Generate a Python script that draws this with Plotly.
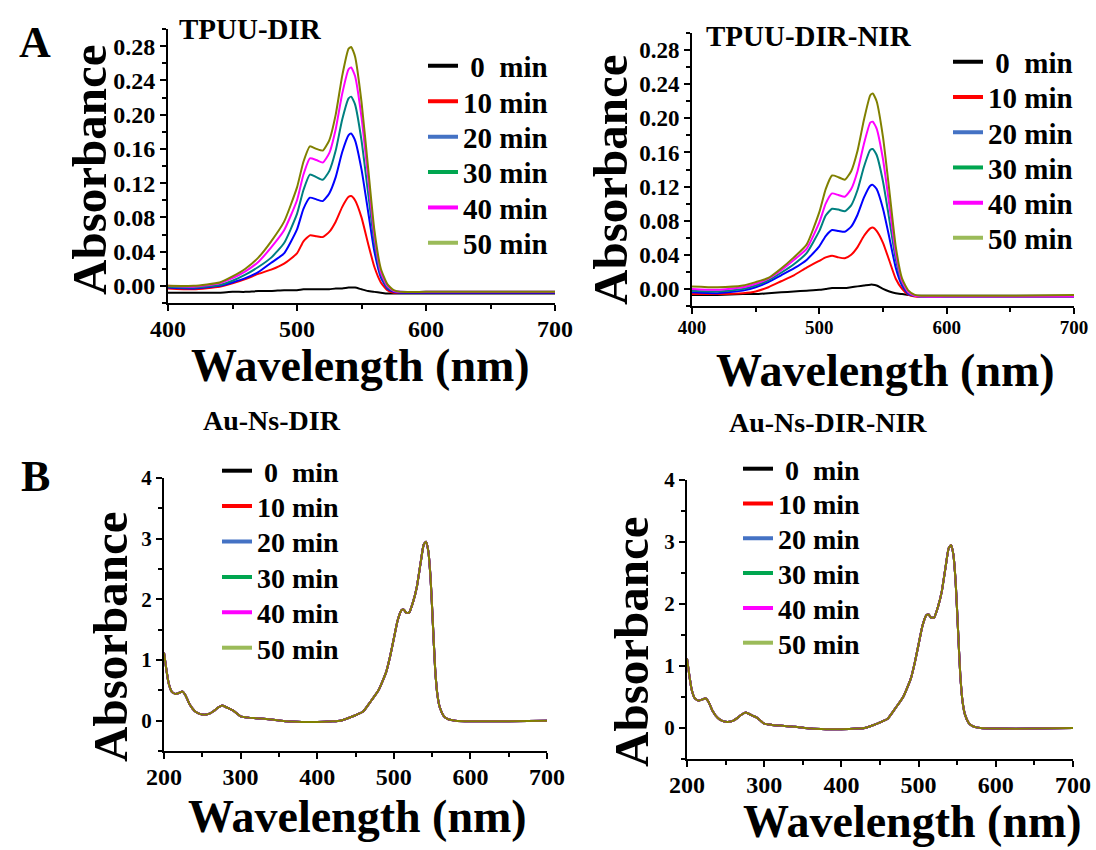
import plotly.graph_objects as go

# ---------------- data ----------------
wl_top = [400, 420, 440, 450, 460, 470, 480, 490, 500, 505, 510, 515, 520, 525, 530,
          535, 540, 542, 545, 550, 555, 560, 565, 570, 575, 580, 600, 650, 700]

times = ["\u00a00\u00a0\u00a0min", "10 min", "20 min", "30 min", "40 min", "50 min"]

# TPUU-DIR
tl_0 = [-0.008, -0.008, -0.008, -0.007, -0.007, -0.006, -0.006, -0.005, -0.005, -0.004, -0.004, -0.004, -0.004, -0.004, -0.003,
        -0.003, -0.002, -0.002, -0.002, -0.004, -0.006, -0.007, -0.008, -0.009, -0.009, -0.009, -0.009, -0.009, -0.009]
tl_10 = [-0.003, -0.004, -0.001, 0.003, 0.008, 0.014, 0.019, 0.026, 0.038, 0.052, 0.059, 0.058, 0.057, 0.063, 0.075,
         0.092, 0.104, 0.105, 0.100, 0.080, 0.050, 0.022, 0.004, -0.005, -0.008, -0.008, -0.008, -0.008, -0.008]
tl_20 = [-0.002, -0.003, 0.000, 0.004, 0.009, 0.016, 0.027, 0.038, 0.066, 0.090, 0.103, 0.101, 0.099, 0.108, 0.127,
         0.156, 0.176, 0.178, 0.170, 0.136, 0.088, 0.040, 0.010, -0.003, -0.007, -0.008, -0.008, -0.008, -0.008]
tl_30 = [-0.001, -0.002, 0.001, 0.006, 0.013, 0.022, 0.033, 0.050, 0.084, 0.112, 0.130, 0.127, 0.124, 0.134, 0.158,
         0.194, 0.219, 0.221, 0.212, 0.170, 0.110, 0.050, 0.013, -0.002, -0.006, -0.007, -0.007, -0.007, -0.007]
tl_40 = [0.000, -0.001, 0.003, 0.009, 0.017, 0.028, 0.045, 0.065, 0.100, 0.130, 0.149, 0.147, 0.144, 0.155, 0.183,
         0.224, 0.253, 0.255, 0.245, 0.197, 0.128, 0.058, 0.016, 0.000, -0.006, -0.007, -0.007, -0.007, -0.007]
tl_50 = [0.000, 0.000, 0.004, 0.011, 0.020, 0.033, 0.052, 0.075, 0.115, 0.145, 0.163, 0.160, 0.158, 0.170, 0.200,
         0.245, 0.277, 0.279, 0.268, 0.215, 0.140, 0.065, 0.020, 0.002, -0.005, -0.007, -0.007, -0.007, -0.007]

# TPUU-DIR-NIR
tr_0 = [-0.007, -0.007, -0.006, -0.006, -0.005, -0.004, -0.003, -0.002, -0.001, 0.000, 0.001, 0.001, 0.001, 0.002, 0.003,
        0.004, 0.005, 0.005, 0.004, 0.000, -0.003, -0.005, -0.006, -0.007, -0.008, -0.008, -0.008, -0.008, -0.008]
tr_10 = [-0.006, -0.006, -0.005, -0.003, 0.002, 0.009, 0.016, 0.025, 0.033, 0.037, 0.039, 0.037, 0.036, 0.040, 0.049,
         0.062, 0.071, 0.072, 0.068, 0.054, 0.033, 0.012, 0.000, -0.007, -0.009, -0.009, -0.009, -0.009, -0.009]
tr_20 = [-0.004, -0.005, -0.002, 0.002, 0.008, 0.016, 0.024, 0.034, 0.050, 0.062, 0.069, 0.068, 0.067, 0.073, 0.087,
         0.107, 0.121, 0.122, 0.117, 0.094, 0.060, 0.025, 0.004, -0.006, -0.008, -0.009, -0.009, -0.009, -0.009]
tr_30 = [-0.002, -0.003, 0.000, 0.004, 0.010, 0.019, 0.029, 0.042, 0.068, 0.086, 0.094, 0.093, 0.091, 0.098, 0.116,
         0.143, 0.163, 0.164, 0.157, 0.126, 0.081, 0.035, 0.007, -0.005, -0.008, -0.009, -0.009, -0.009, -0.009]
tr_40 = [0.000, -0.001, 0.002, 0.006, 0.012, 0.022, 0.034, 0.047, 0.078, 0.100, 0.112, 0.110, 0.108, 0.117, 0.138,
         0.170, 0.195, 0.196, 0.188, 0.152, 0.098, 0.042, 0.009, -0.004, -0.008, -0.009, -0.009, -0.009, -0.009]
tr_50 = [0.003, 0.002, 0.004, 0.008, 0.013, 0.024, 0.037, 0.052, 0.090, 0.117, 0.133, 0.131, 0.128, 0.138, 0.162,
         0.198, 0.227, 0.229, 0.220, 0.178, 0.115, 0.050, 0.012, -0.002, -0.007, -0.008, -0.008, -0.008, -0.007]

# Au-Ns spectra (all six time points overlap)
wl_au = [200, 203, 206, 210, 215, 220, 224, 228, 233, 240, 245, 250, 255, 260, 265, 270, 276, 280, 285, 290,
         295, 300, 310, 320, 340, 360, 380, 400, 420, 430, 440, 450, 460, 470, 480, 490, 495, 500, 505, 510,
         513, 516, 520, 525, 530, 535, 539, 542, 545, 548, 551, 554, 557, 560, 565, 570, 575, 580, 600, 650, 700]
au_dir = [1.12, 0.85, 0.62, 0.48, 0.44, 0.46, 0.48, 0.42, 0.28, 0.16, 0.12, 0.10, 0.10, 0.12, 0.16, 0.21, 0.25, 0.23, 0.20, 0.17,
          0.12, 0.07, 0.05, 0.04, 0.02, -0.01, -0.02, -0.02, -0.01, 0.00, 0.04, 0.09, 0.15, 0.32, 0.50, 0.80, 1.05, 1.35, 1.65, 1.82,
          1.83, 1.78, 1.78, 1.95, 2.20, 2.60, 2.90, 2.95, 2.80, 2.35, 1.60, 0.85, 0.42, 0.22, 0.08, 0.03, 0.01, 0.00, -0.01, -0.01, 0.00]
au_dir_nir = [1.12, 0.85, 0.62, 0.48, 0.44, 0.46, 0.48, 0.42, 0.28, 0.16, 0.12, 0.10, 0.10, 0.12, 0.16, 0.21, 0.25, 0.23, 0.20, 0.17,
              0.12, 0.07, 0.05, 0.04, 0.02, -0.01, -0.02, -0.02, -0.01, 0.00, 0.04, 0.09, 0.15, 0.32, 0.50, 0.80, 1.05, 1.35, 1.65, 1.82,
              1.83, 1.78, 1.78, 1.95, 2.20, 2.60, 2.90, 2.95, 2.80, 2.35, 1.60, 0.85, 0.42, 0.22, 0.08, 0.03, 0.01, 0.00, -0.01, -0.01, 0.00]

curve_colors = ["#000000", "#FF0000", "#0000FF", "#008080", "#FF00FF", "#808000"]
legend_colors = ["#000000", "#FF0000", "#4472C4", "#00A650", "#FF00FF", "#9BBB59"]

panel_titles = ["TPUU-DIR", "TPUU-DIR-NIR", "Au-Ns-DIR", "Au-Ns-DIR-NIR"]

# ---------------- figure ----------------
FONT = "Liberation Serif"
W, H = 1096, 850
fig = go.Figure()


def px_x(p):
    return p / W


def px_y(p):
    return 1 - p / H


# (xaxis, yaxis, wavelengths, series, legend text start px, first row px, row step px, legend font)
panels = [
    ("x", "y", wl_top, [tl_0, tl_10, tl_20, tl_30, tl_40, tl_50], 463, 66, 35.4, 29),
    ("x2", "y2", wl_top, [tr_0, tr_10, tr_20, tr_30, tr_40, tr_50], 988, 62, 35.2, 29),
    ("x3", "y3", wl_au, [au_dir] * 6, 257, 471, 35.4, 28),
    ("x4", "y4", wl_au, [au_dir_nir] * 6, 778, 469, 34.8, 28),
]

legends = {}
k = 0
for xa, ya, wl, series, lx, ly0, dy, lfs in panels:
    for i, ys in enumerate(series):
        fig.add_trace(go.Scatter(x=wl, y=ys, mode="lines", xaxis=xa, yaxis=ya,
                                 line=dict(color=curve_colors[i], width=2, shape="spline", smoothing=0.5),
                                 showlegend=False, hoverinfo="skip"))
    for i, name in enumerate(times):
        k += 1
        lname = "legend" if k == 1 else f"legend{k}"
        fig.add_trace(go.Scatter(x=[None], y=[None], mode="lines", xaxis=xa, yaxis=ya,
                                 line=dict(color=legend_colors[i], width=4),
                                 name=name, legend=lname, showlegend=True))
        legends[lname] = dict(x=px_x(lx - 40), y=px_y(ly0 + dy * i), xref="container", yref="container",
                              xanchor="left", yanchor="middle", bgcolor="rgba(0,0,0,0)",
                              borderwidth=0, itemwidth=30,
                              font=dict(family=FONT, size=lfs, color="black", weight="bold"))


def xaxis(dom, rng, tfs, anchor):
    return dict(domain=dom, range=rng, dtick=100, tick0=0, showgrid=False, zeroline=False, anchor=anchor,
                showline=True, linewidth=2, linecolor="black", ticks="outside", ticklen=6, tickwidth=2,
                tickcolor="black", automargin=False, ticklabelstandoff=-3,
                minor=dict(ticks="outside", ticklen=4, tickwidth=1.5, dtick=50, tickcolor="black"),
                tickfont=dict(family=FONT, size=tfs, color="black", weight="bold"))


def yaxis(dom, rng, dt, mdt, fmt, tfs, anchor):
    return dict(domain=dom, range=rng, dtick=dt, tick0=0, tickformat=fmt, showgrid=False, zeroline=False,
                showline=True, linewidth=2, linecolor="black", ticks="outside", ticklen=6, tickwidth=2,
                tickcolor="black", anchor=anchor, automargin=False,
                minor=dict(ticks="outside", ticklen=4, tickwidth=1.5, dtick=mdt, tickcolor="black"),
                tickfont=dict(family=FONT, size=tfs, color="black", weight="bold"))


fig.update_layout(
    template="none",
    width=W, height=H, margin=dict(l=0, r=0, t=0, b=0, autoexpand=False),
    paper_bgcolor="white", plot_bgcolor="white",
    xaxis=xaxis([px_x(168), px_x(555)], [400, 700], 24, "y"),
    yaxis=yaxis([px_y(303), px_y(29)], [-0.02, 0.30], 0.04, 0.02, ".2f", 24, "x"),
    xaxis2=xaxis([px_x(692), px_x(1074)], [400, 700], 19, "y2"),
    yaxis2=yaxis([px_y(306), px_y(33)], [-0.02, 0.30], 0.04, 0.02, ".2f", 23, "x2"),
    xaxis3=xaxis([px_x(164), px_x(547)], [200, 700], 24, "y3"),
    yaxis3=yaxis([px_y(751), px_y(478)], [-0.5, 4], 1, 0.5, "d", 21, "x3"),
    xaxis4=xaxis([px_x(687), px_x(1073)], [200, 700], 24, "y4"),
    yaxis4=yaxis([px_y(759), px_y(480)], [-0.5, 4], 1, 0.5, "d", 21, "x4"),
    **legends,
)

ann = []
# panel letters
ann.append(dict(text="A", x=px_x(35), y=px_y(42), font=dict(size=44)))
ann.append(dict(text="B", x=px_x(35), y=px_y(476), font=dict(size=44)))
# panel titles
ann.append(dict(text=panel_titles[0], x=px_x(250), y=px_y(29), font=dict(size=29)))
ann.append(dict(text=panel_titles[1], x=px_x(809), y=px_y(36), font=dict(size=29)))
ann.append(dict(text=panel_titles[2], x=px_x(272), y=px_y(420), font=dict(size=28)))
ann.append(dict(text=panel_titles[3], x=px_x(828), y=px_y(423), font=dict(size=28)))
# axis titles
for xp, yp in [(90, 170), (610, 180), (110, 637), (631, 642)]:
    ann.append(dict(text="Absorbance", x=px_x(xp), y=px_y(yp), textangle=-90, font=dict(size=49)))
for xp, yp in [(360, 365), (885, 370), (357, 816), (912, 821)]:
    ann.append(dict(text="Wavelength (nm)", x=px_x(xp), y=px_y(yp), font=dict(size=46)))

for a in ann:
    a.update(xref="paper", yref="paper", xanchor="center", yanchor="middle", showarrow=False)
    a["font"].update(family=FONT, color="black", weight="bold")
fig.update_layout(annotations=ann)

fig.write_html("out.html", config={"displayModeBar": False},
               post_script="document.body.style.margin='0';document.body.style.overflow='hidden';")
